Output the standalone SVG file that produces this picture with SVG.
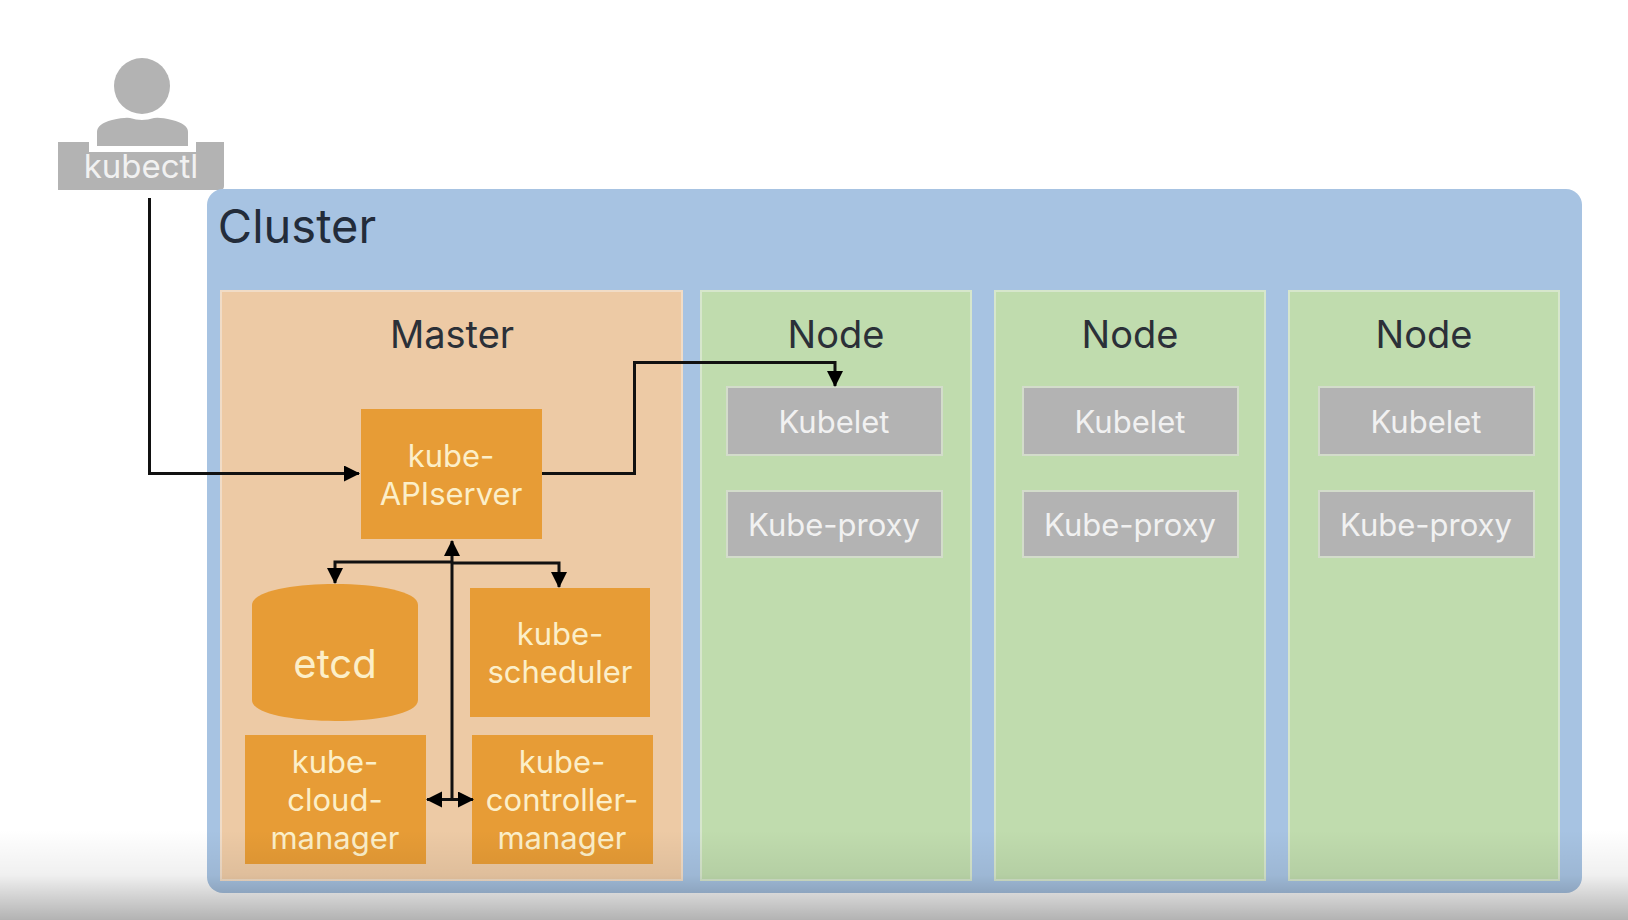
<svg xmlns="http://www.w3.org/2000/svg" width="1628" height="920" viewBox="0 0 1628 920">
<style>
text{font-family:Inter,Roboto,"Noto Sans",sans-serif;text-anchor:middle}
.o{fill:#e79c36}
.ot{fill:#fcefc9;font-size:31px}
.g{fill:#b3b3b3}
.n{fill:#c0dcae;stroke:#d6e6cc;stroke-width:2}
.k{fill:#b3b3b3;stroke:#d3dccb;stroke-width:2}
.kt{fill:#f1f1f1;font-size:31px}
.h{fill:#2b3038;font-size:38px}
.c{fill:none;stroke:#111;stroke-width:3}
</style>
<defs>
<marker id="a" markerUnits="userSpaceOnUse" markerWidth="18" markerHeight="18" refX="15" refY="8" orient="auto"><path d="M0 0L16 8L0 16z" fill="#000"/></marker>
<linearGradient id="sh" x1="0" y1="0" x2="0" y2="1"><stop offset="0" stop-color="#000" stop-opacity="0"/><stop offset=".5" stop-color="#000" stop-opacity=".06"/><stop offset="1" stop-color="#000" stop-opacity=".3"/></linearGradient>
</defs>
<rect width="1628" height="920" fill="#fff"/>
<g id="kubectl">
<circle cx="142" cy="86" r="28" class="g"/>
<path class="g" d="M97 146V132Q97 124 112 120Q125 117 130 118Q142 122 154 118Q160 117 172 120Q188 124 188 132V146z"/>
<path class="g" d="M58 142H89V152H196V142H224V186Q224 190 220 190H58z"/>
<text x="141" y="178" class="kt" style="font-size:33px">kubectl</text>
</g>
<g id="cluster">
<rect x="207" y="189" width="1375" height="704" rx="16" fill="#a7c3e2"/>
<text x="297" y="243" style="font-size:47px;fill:#232c3a">Cluster</text>
</g>
<g id="master">
<rect x="221" y="291" width="461" height="589" fill="#edcaa5" stroke="#f1dcc6" stroke-width="2"/>
<text x="452" y="348" class="h">Master</text>
</g>
<g id="node1">
<rect x="701" y="291" width="270" height="589" class="n"/>
<text x="836" y="348" class="h">Node</text>
</g>
<g id="node2">
<rect x="995" y="291" width="270" height="589" class="n"/>
<text x="1130" y="348" class="h">Node</text>
</g>
<g id="node3">
<rect x="1289" y="291" width="270" height="589" class="n"/>
<text x="1424" y="348" class="h">Node</text>
</g>
<g id="kubelet1"><rect x="727" y="387" width="215" height="68" class="k"/><text x="834" y="433" class="kt">Kubelet</text></g>
<g id="proxy1"><rect x="727" y="491" width="215" height="66" class="k"/><text x="834" y="536" class="kt">Kube-proxy</text></g>
<g id="kubelet2"><rect x="1023" y="387" width="215" height="68" class="k"/><text x="1130" y="433" class="kt">Kubelet</text></g>
<g id="proxy2"><rect x="1023" y="491" width="215" height="66" class="k"/><text x="1130" y="536" class="kt">Kube-proxy</text></g>
<g id="kubelet3"><rect x="1319" y="387" width="215" height="68" class="k"/><text x="1426" y="433" class="kt">Kubelet</text></g>
<g id="proxy3"><rect x="1319" y="491" width="215" height="66" class="k"/><text x="1426" y="536" class="kt">Kube-proxy</text></g>
<g id="apiserver"><rect x="361" y="409" width="181" height="130" class="o"/><text x="451" y="467" class="ot">kube-</text><text x="451" y="505" class="ot">APIserver</text></g>
<g id="etcd"><path class="o" d="M252 605C252 577 418 577 418 605V700C418 728 252 728 252 700z"/><text x="335" y="678" class="ot" style="font-size:40px">etcd</text></g>
<g id="scheduler"><rect x="470" y="588" width="180" height="129" class="o"/><text x="560" y="645" class="ot">kube-</text><text x="560" y="683" class="ot">scheduler</text></g>
<g id="cloud"><rect x="245" y="735" width="181" height="129" class="o"/><text x="335" y="773" class="ot">kube-</text><text x="335" y="811" class="ot">cloud-</text><text x="335" y="849" class="ot">manager</text></g>
<g id="controller"><rect x="472" y="735" width="181" height="129" class="o"/><text x="562" y="773" class="ot">kube-</text><text x="562" y="811" class="ot">controller-</text><text x="562" y="849" class="ot">manager</text></g>
<g id="connectors">
<path class="c" marker-end="url(#a)" d="M149.500 198V473.500H359"/>
<path class="c" marker-end="url(#a)" d="M542 473.500H634.500V362.500H835V386"/>
<path class="c" marker-end="url(#a)" d="M452 800V541"/>
<path class="c" marker-end="url(#a)" d="M452 562H335V583"/>
<path class="c" marker-end="url(#a)" d="M452 563H559V587"/>
<path class="c" marker-end="url(#a)" d="M452 799.500H427"/>
<path class="c" marker-end="url(#a)" d="M452 799.500H473"/>
</g>
<rect id="shade" x="0" y="830" width="1628" height="90" fill="url(#sh)"/>
</svg>
